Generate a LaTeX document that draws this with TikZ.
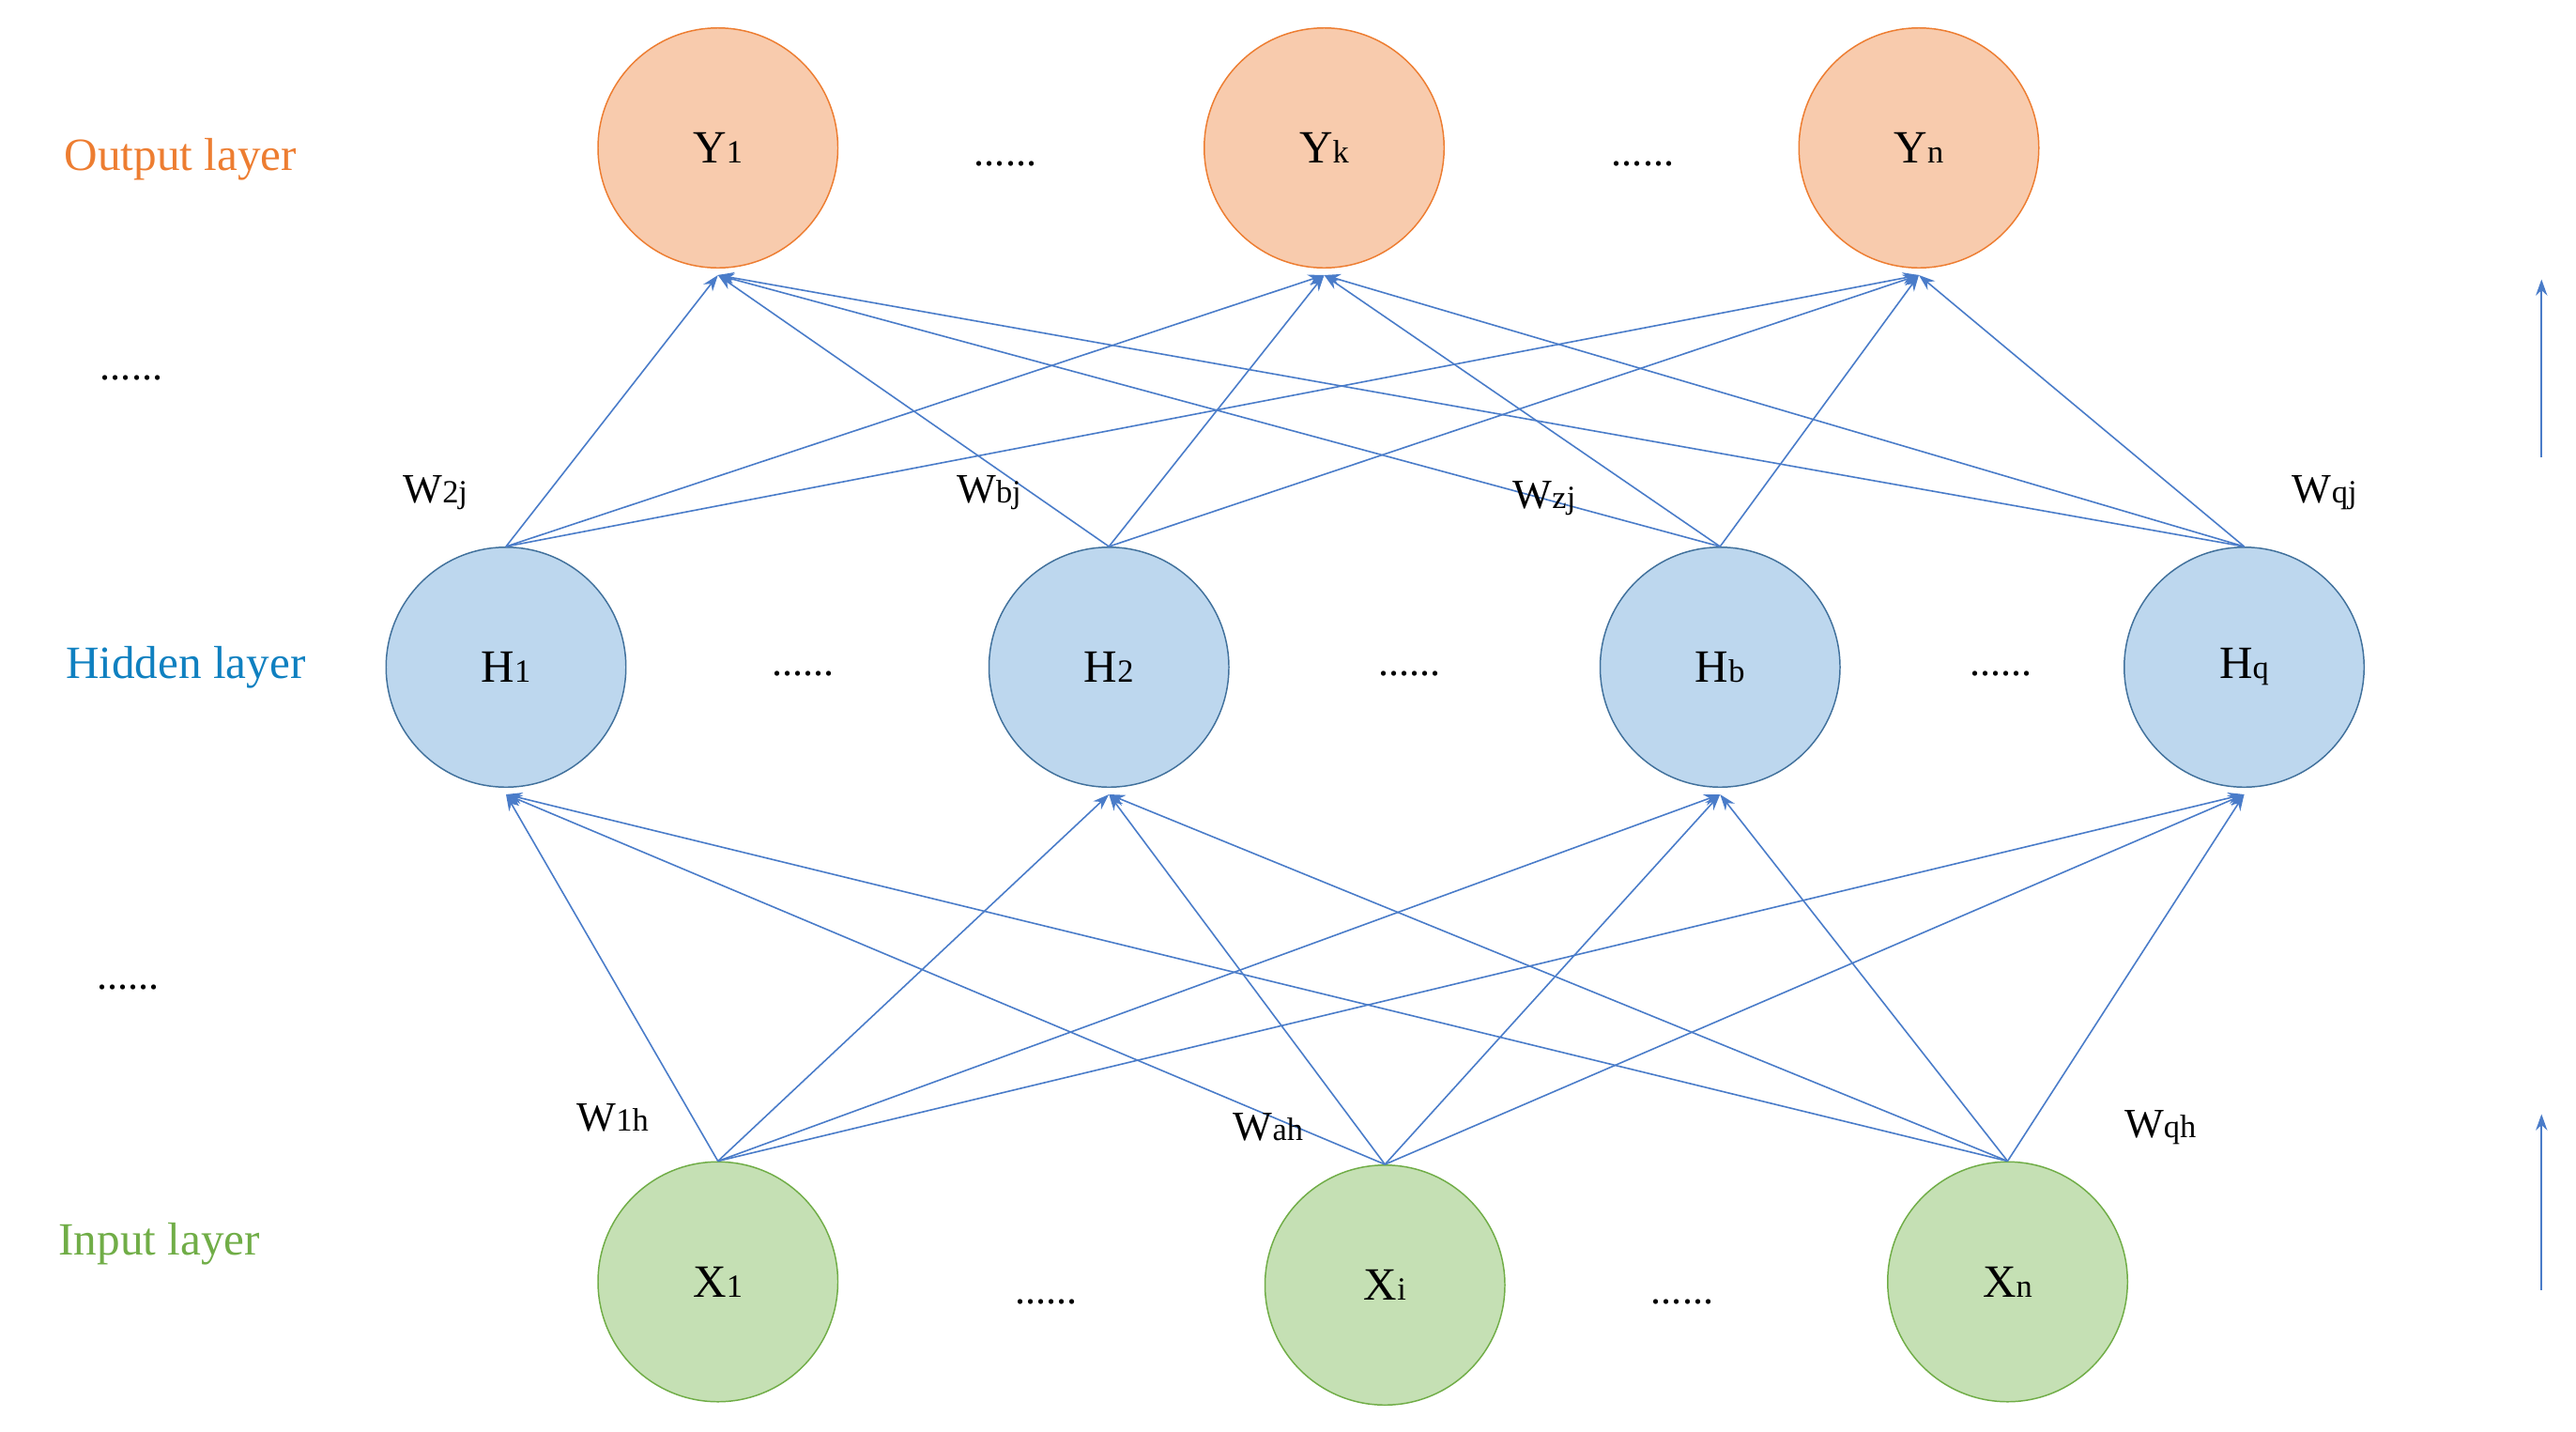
\documentclass[tikz,border=0pt]{standalone}
\usepackage{fontspec}
\setmainfont{Liberation Serif}
\usetikzlibrary{arrows.meta}
\definecolor{ofill}{HTML}{F8CBAD}\definecolor{odraw}{HTML}{ED7D31}
\definecolor{bfill}{HTML}{BDD7EE}\definecolor{bdraw}{HTML}{41719C}
\definecolor{gfill}{HTML}{C5E0B4}\definecolor{gdraw}{HTML}{70AD47}
\definecolor{edge}{HTML}{4A7CC9}
\definecolor{htext}{HTML}{0F80C0}
\begin{document}
\begin{tikzpicture}[x=0.5mm,y=-0.5mm,
  neuron/.style={circle,minimum size=73mm,inner sep=0pt,line width=1.2pt,font=\fontsize{40}{48}\selectfont},
  outn/.style={neuron,fill=ofill,draw=odraw},
  hidn/.style={neuron,fill=bfill,draw=bdraw},
  inpn/.style={neuron,fill=gfill,draw=gdraw},
  lab/.style={font=\fontsize{40}{48}\selectfont},
  wl/.style={font=\fontsize{36}{44}\selectfont},
  dots/.style={font=\fontsize{36}{44}\selectfont},
  conn/.style={draw=edge,line width=1.3pt,-{Stealth[length=14pt,width=10pt]}}]
\useasboundingbox (0,0) rectangle (1568,871);
\newcommand{\mysub}[1]{{\fontsize{28}{30}\selectfont #1}}
\node[outn] (Y1) at (437,90) {Y\mysub{1}};
\node[outn] (Yk) at (806,90) {Y\mysub{k}};
\node[outn] (Yn) at (1168,90) {Y\mysub{n}};
\node[hidn] (H1) at (308,406) {H\mysub{1}};
\node[hidn] (H2) at (675,406) {H\mysub{2}};
\node[hidn] (Hb) at (1047,406) {H\mysub{b}};
\node[hidn] (Hq) at (1366,406) {H\mysub{q}};
\node[inpn] (X1) at (437,780) {X\mysub{1}};
\node[inpn] (Xi) at (843,782) {X\mysub{i}};
\node[inpn] (Xn) at (1222,780) {X\mysub{n}};
\foreach \x in {X1,Xi,Xn}\foreach \h in {H1,H2,Hb,Hq}\draw[conn] (\x.north) -- ([yshift=-2mm]\h.south);
\foreach \h in {H1,H2,Hb,Hq}\foreach \y in {Y1,Yk,Yn}\draw[conn] (\h.north) -- ([yshift=-2mm]\y.south);
\node[lab,text=odraw] (lo) at (110,97) {Output layer};
\node[lab,text=htext] (lh) at (113,406) {Hidden layer};
\node[lab,text=gdraw] (li) at (97,757) {Input layer};
\node[dots] (d1) at (612,100) {......};
\node[dots] (d2) at (1000,100) {......};
\node[dots] (d3) at (80,230) {......};
\node[dots] (d4) at (489,410) {......};
\node[dots] (d5) at (858,410) {......};
\node[dots] (d6) at (1218,410) {......};
\node[dots] (d7) at (78,601) {......};
\node[dots] (d8) at (637,792) {......};
\node[dots] (d9) at (1024,792) {......};
\node[wl] (w1) at (265,300) {W\mysub{2j}};
\node[wl] (w2) at (602,300) {W\mysub{bj}};
\node[wl] (w3) at (940,303) {W\mysub{zj}};
\node[wl] (w4) at (1415,300) {W\mysub{qj}};
\node[wl] (w5) at (373,680) {W\mysub{1h}};
\node[wl] (w6) at (772,686) {W\mysub{ah}};
\node[wl] (w7) at (1315,686) {W\mysub{qh}};
\coordinate (a1s) at (1547,278);\coordinate (a1e) at (1547,170);
\coordinate (a2s) at (1547,785);\coordinate (a2e) at (1547,678);
\draw[conn] (a1s) -- (a1e);
\draw[conn] (a2s) -- (a2e);
\end{tikzpicture}
\end{document}
